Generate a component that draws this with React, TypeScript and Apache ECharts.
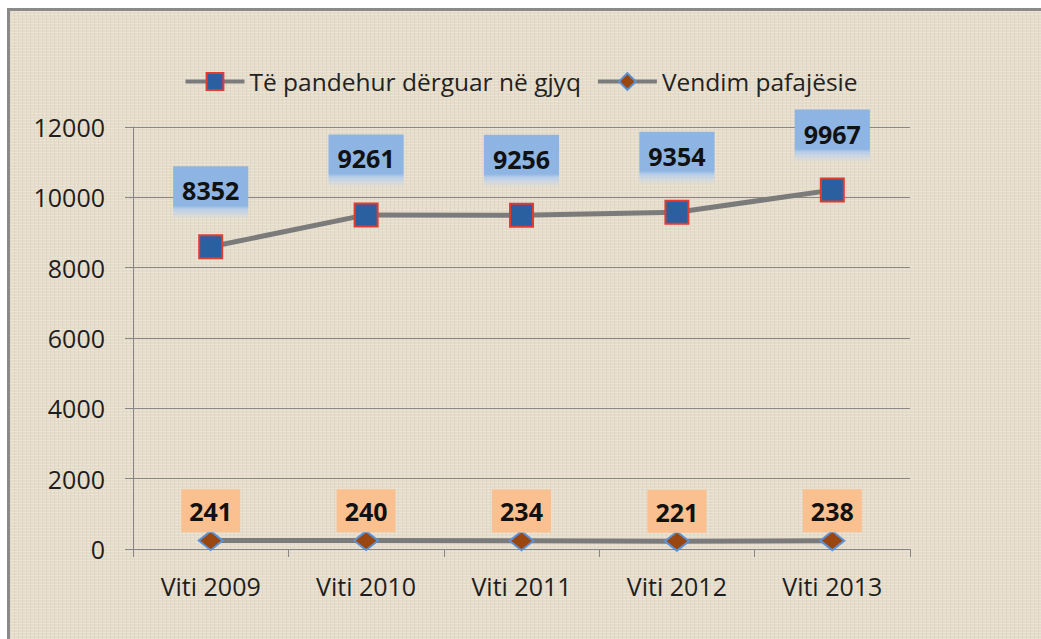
import React, { useEffect, useRef } from "react";
import * as echarts from "echarts";

const categories = ["Viti 2009", "Viti 2010", "Viti 2011", "Viti 2012", "Viti 2013"];
const seriesSentName = "Të pandehur dërguar në gjyq";
const seriesSentValues = [8352, 9261, 9256, 9354, 9967];
const seriesAcquitName = "Vendim pafajësie";
const seriesAcquitValues = [241, 240, 234, 221, 238];
const yTicks = { min: 0, max: 12000, interval: 2000 };

const FONT = "'Open Sans', 'Noto Sans', sans-serif";

export default function App() {
  const ref = useRef<HTMLDivElement>(null);

  useEffect(() => {
    document.body.style.margin = "0";
    if (!ref.current) return;
    const chart = echarts.init(ref.current, undefined, { renderer: "svg" });
    const blueBg = new echarts.graphic.LinearGradient(0, 0, 0, 1, [
      { offset: 0, color: "#8db4e2" },
      { offset: 0.74, color: "#8fb5e3" },
      { offset: 0.8, color: "#b6cdea" },
      { offset: 1, color: "rgba(200,216,238,0)" },
    ]);
    chart.setOption({
      animation: false,
      backgroundColor: "transparent",
      textStyle: { fontFamily: FONT },
      legend: {
        data: [seriesSentName, seriesAcquitName],
        left: "center",
        top: 64,
        itemWidth: 59,
        itemHeight: 21,
        itemGap: 15,
        lineStyle: { width: 4 },
        textStyle: { fontSize: 24.5, color: "#222", fontFamily: FONT },
      },
      grid: { left: 133, right: 131, top: 127, bottom: 90 },
      xAxis: {
        type: "category",
        data: categories,
        boundaryGap: true,
        axisLine: { lineStyle: { color: "#868686", width: 1 } },
        axisTick: { show: true, length: 8, lineStyle: { color: "#868686" } },
        axisLabel: { fontSize: 25, color: "#1e1e1e", margin: 24, fontFamily: FONT },
      },
      yAxis: {
        type: "value",
        min: yTicks.min,
        max: yTicks.max,
        interval: yTicks.interval,
        axisLine: { show: true, lineStyle: { color: "#868686", width: 1 } },
        axisTick: { show: true, length: 8, lineStyle: { color: "#868686" } },
        splitLine: { lineStyle: { color: "#8c8686", width: 1 } },
        axisLabel: {
          fontSize: 25,
          color: "#1e1e1e",
          margin: 28,
          fontFamily: FONT,
          formatter: (v: number) => String(v),
        },
      },
      series: [
        {
          name: seriesAcquitName,
          type: "line",
          stack: "total",
          data: seriesAcquitValues,
          symbol: "diamond",
          symbolSize: [24, 19],
          lineStyle: { color: "#7b7b7b", width: 5 },
          itemStyle: { color: "#9a4611", borderColor: "#5b92d6", borderWidth: 2 },
          label: {
            show: true,
            position: "top",
            distance: -2,
            fontSize: 25,
            fontWeight: "bold",
            color: "#111",
            lineHeight: 28,
            backgroundColor: "#fac08f",
            padding: [8, 8, 7, 8],
            fontFamily: FONT,
          },
          z: 3,
        },
        {
          name: seriesSentName,
          type: "line",
          stack: "total",
          data: seriesSentValues,
          symbol: "rect",
          symbolSize: 23,
          lineStyle: { color: "#7b7b7b", width: 5 },
          itemStyle: { color: "#2a5fa0", borderColor: "#e03c31", borderWidth: 2 },
          label: {
            show: true,
            position: "top",
            distance: 15,
            fontSize: 25,
            fontWeight: "bold",
            color: "#111",
            lineHeight: 28,
            backgroundColor: blueBg,
            padding: [10, 9, 15, 9],
            fontFamily: FONT,
          },
          z: 4,
        },
      ],
    });
    return () => chart.dispose();
  }, []);

  return (
    <div style={{ position: "relative", width: 1041, height: 639, background: "#fff", overflow: "hidden" }}>
      <div
        style={{
          position: "absolute",
          left: 7,
          top: 8,
          right: 0,
          bottom: 0,
          borderTop: "3px solid #8a8a8a",
          borderLeft: "3px solid #8a8a8a",
          backgroundColor: "#e5dccb",
          backgroundImage:
            "repeating-linear-gradient(90deg, rgba(140,120,90,0.07) 0px, rgba(140,120,90,0.07) 1px, transparent 1px, transparent 4px), repeating-linear-gradient(0deg, rgba(255,250,240,0.25) 0px, rgba(255,250,240,0.25) 1px, transparent 1px, transparent 3px)",
        }}
      />
      <div ref={ref} style={{ position: "absolute", left: 0, top: 0, width: 1041, height: 639 }} />
    </div>
  );
}
